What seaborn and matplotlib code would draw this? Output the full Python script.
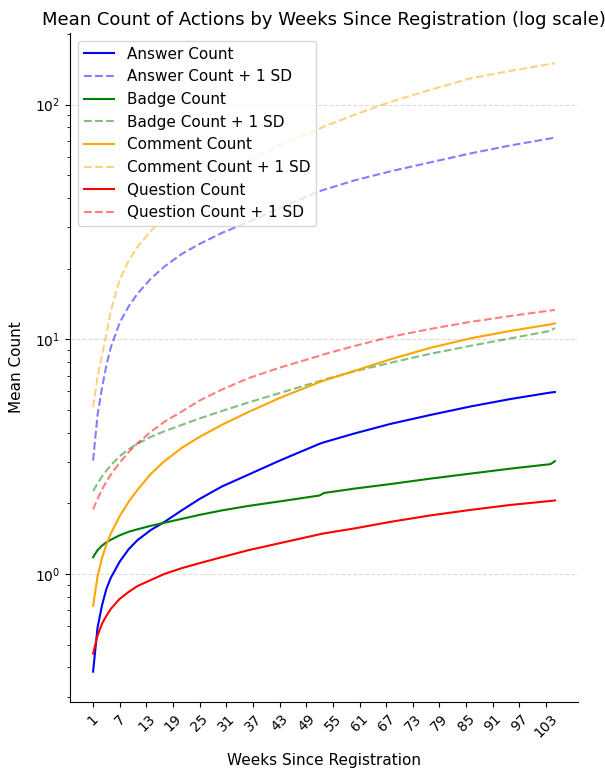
import matplotlib
matplotlib.use("Agg")
import matplotlib.pyplot as plt
import seaborn as sns
import pandas as pd

weeks = [1, 2, 3, 4, 5, 7, 9, 11, 14, 17, 21, 25, 30, 36, 43, 52, 53, 60, 68, 77, 86, 95, 104, 105]

answer = [0.384, 0.590, 0.735, 0.865, 0.965, 1.130, 1.275, 1.395, 1.540, 1.665, 1.870, 2.090,
          2.360, 2.653, 3.042, 3.590, 3.643, 3.978, 4.364, 4.764, 5.176, 5.569, 5.934, 5.963]
answer_sd = [3.042, 4.764, 6.200, 7.760, 9.249, 11.80, 13.80, 15.66, 18.14, 20.39, 23.14, 25.51,
             28.41, 31.62, 36.25, 42.79, 43.42, 47.64, 52.02, 56.80, 62.00, 67.05, 71.77, 72.48]
badge = [1.180, 1.264, 1.321, 1.366, 1.400, 1.463, 1.514, 1.551, 1.605, 1.653, 1.719, 1.787,
         1.867, 1.951, 2.039, 2.161, 2.215, 2.314, 2.418, 2.551, 2.679, 2.813, 2.939, 3.027]
badge_sd = [2.259, 2.429, 2.602, 2.759, 2.911, 3.178, 3.402, 3.590, 3.843, 4.055, 4.322, 4.604,
            4.953, 5.383, 5.904, 6.637, 6.736, 7.318, 7.950, 8.682, 9.387, 10.10, 10.87, 11.19]
comment = [0.732, 0.975, 1.170, 1.335, 1.490, 1.765, 2.030, 2.285, 2.670, 3.020, 3.452, 3.843,
           4.322, 4.906, 5.623, 6.574, 6.672, 7.355, 8.228, 9.205, 10.10, 10.87, 11.58, 11.69]
comment_sd = [5.151, 6.902, 8.555, 10.60, 13.27, 17.96, 21.61, 24.78, 28.96, 33.20, 38.81, 43.63,
              50.03, 57.90, 67.05, 79.13, 80.70, 90.71, 102.9, 115.8, 129.5, 139.3, 149.2, 149.9]
question = [0.458, 0.546, 0.614, 0.664, 0.711, 0.784, 0.839, 0.889, 0.943, 1.000, 1.060, 1.113,
            1.180, 1.264, 1.353, 1.477, 1.490, 1.566, 1.669, 1.778, 1.876, 1.970, 2.048, 2.058]
question_sd = [1.886, 2.089, 2.292, 2.478, 2.653, 2.983, 3.305, 3.608, 4.036, 4.449, 4.930, 5.489,
               6.109, 6.835, 7.572, 8.513, 8.638, 9.387, 10.25, 11.08, 11.87, 12.58, 13.27, 13.34]

series = [
    ("Answer Count", answer, answer_sd, "blue"),
    ("Badge Count", badge, badge_sd, "green"),
    ("Comment Count", comment, comment_sd, "orange"),
    ("Question Count", question, question_sd, "red"),
]

fig = plt.figure(figsize=(6.05, 7.69), dpi=100)
ax = fig.add_axes([70 / 605, 1 - 702 / 769, 508 / 605, 669 / 769])

for name, mean_vals, sd_vals, color in series:
    df = pd.DataFrame({"week": weeks, "mean": mean_vals, "sd": sd_vals})
    sns.lineplot(data=df, x="week", y="mean", color=color, linewidth=1.5,
                 label=name, ax=ax)
    sns.lineplot(data=df, x="week", y="sd", color=color, linewidth=1.5,
                 linestyle="--", alpha=0.5, label=f"{name} + 1 SD", ax=ax)

ax.set_yscale("log")
ax.set_xticks(list(range(1, 105, 6)))
ax.tick_params(axis="x", labelrotation=45, labelsize=10)
ax.tick_params(axis="y", labelsize=10)
ax.grid(True, axis="y", which="major", linestyle="--", color="lightgray", alpha=0.8, linewidth=0.8)
ax.set_title("Mean Count of Actions by Weeks Since Registration (log scale)", fontsize=13)
ax.set_xlabel("Weeks Since Registration", fontsize=11, labelpad=9)
ax.set_ylabel("Mean Count", fontsize=11, labelpad=8)
ax.legend(loc="upper left", fontsize=11)
sns.despine(ax=ax)

fig.savefig("out.png", dpi=100)
